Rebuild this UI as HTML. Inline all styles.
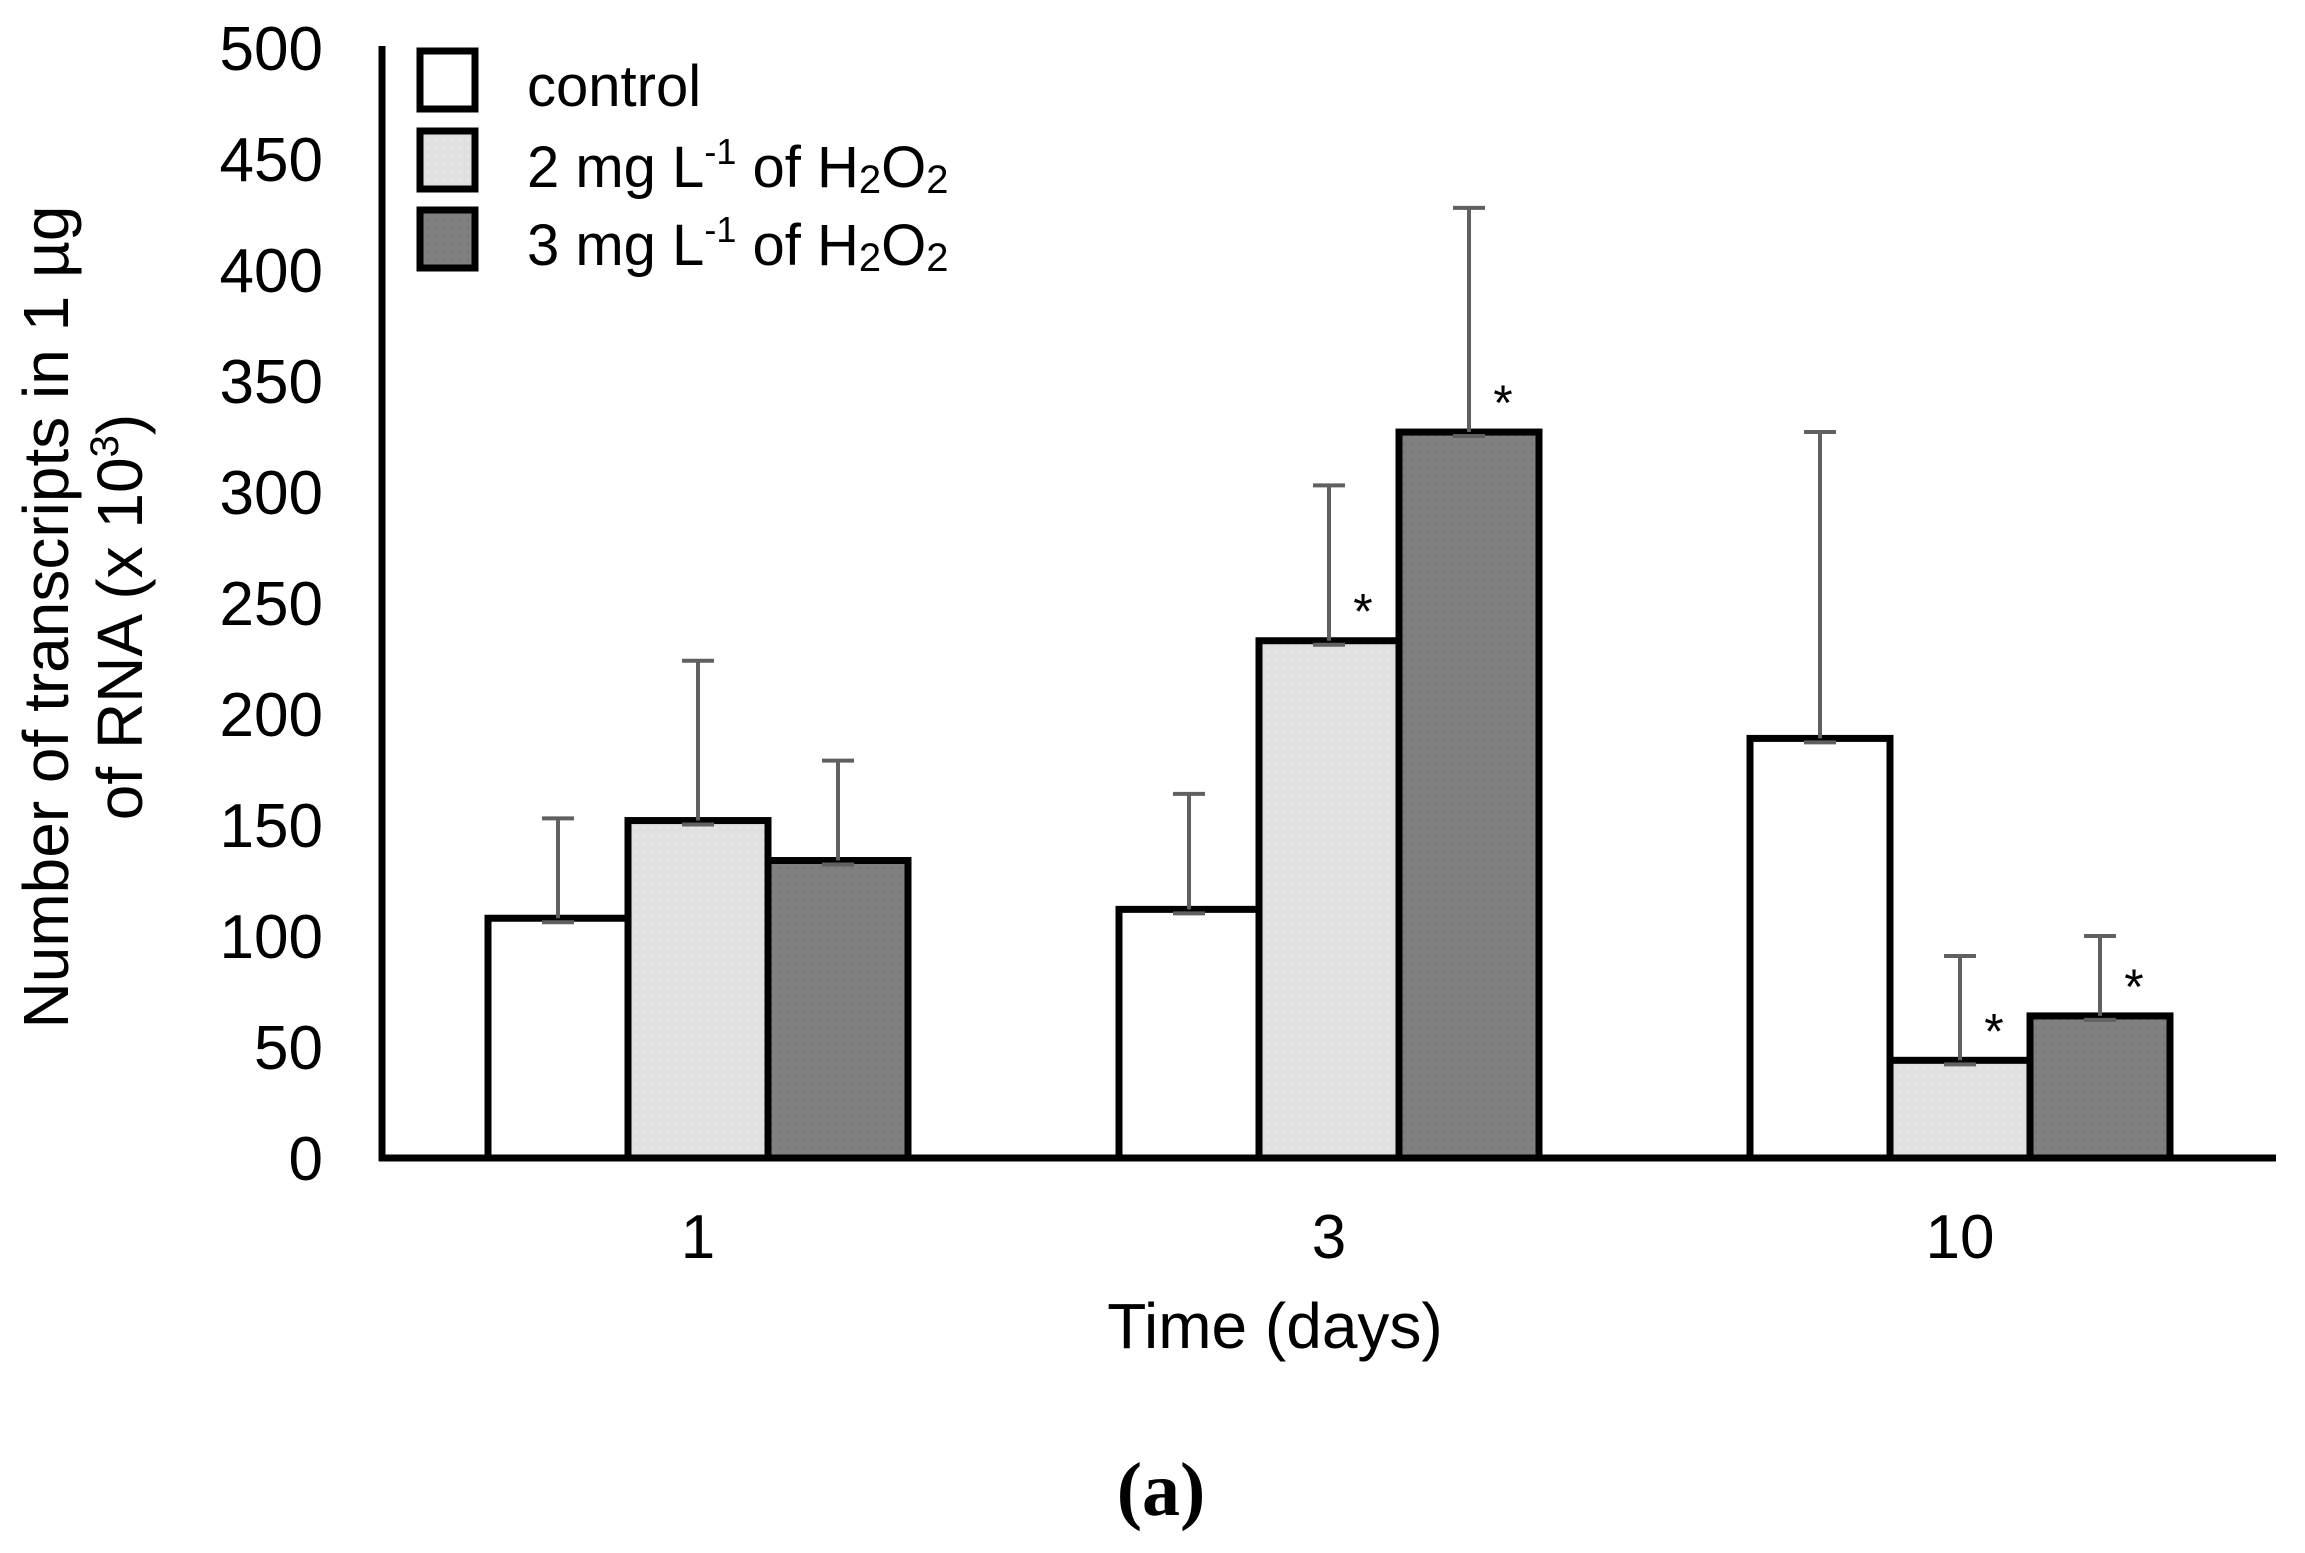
<!DOCTYPE html>
<html><head><meta charset="utf-8">
<style>
html,body{margin:0;padding:0;background:#fff;}
svg{display:block;}
text{font-family:"Liberation Sans",sans-serif;fill:#000;}
</style></head>
<body>
<svg id="chart" width="2305" height="1553" viewBox="0 0 2305 1553" xmlns="http://www.w3.org/2000/svg">
<defs>
<pattern id="dotL" width="8" height="8" patternUnits="userSpaceOnUse"><rect width="8" height="8" fill="#e0e0e0"/><circle cx="4" cy="4" r="1.2" fill="#ececec"/></pattern>
<pattern id="dotD" width="8" height="8" patternUnits="userSpaceOnUse"><rect width="8" height="8" fill="#808080"/><circle cx="4" cy="4" r="1.2" fill="#767676"/></pattern>
</defs>
<g id="bars"></g>
<g id="errs"></g>
<g id="stars"></g>
<line x1="382" y1="46" x2="382" y2="1161" stroke="#000" stroke-width="7"/>
<line x1="379" y1="1158" x2="2276" y2="1158" stroke="#000" stroke-width="7"/>
<g id="yticks"></g>
<g id="xticks"></g>
<g font-size="64">
<text transform="translate(68,617) rotate(-90)" text-anchor="middle">Number of transcripts in 1 µg</text>
<text transform="translate(142,617) rotate(-90)" text-anchor="middle">of RNA (x 10<tspan font-size="40" dy="-24">3</tspan><tspan dy="24">)</tspan></text>
</g>
<text x="1275" y="1348" font-size="64" text-anchor="middle">Time (days)</text>
<text x="1161" y="1515" font-size="76" text-anchor="middle" style="font-family:'Liberation Serif',serif;font-weight:bold">(a)</text>
<g>
<g>
<rect x="420" y="51" width="55" height="58" fill="#fff" stroke="#000" stroke-width="7"/>
<text x="527" y="106" font-size="58">control</text></g>
<g>
<rect x="420" y="131" width="55" height="58" fill="url(#dotL)" stroke="#000" stroke-width="7"/>
<text x="527" y="187" font-size="58">2 mg L<tspan font-size="36" dy="-23">-1</tspan><tspan dy="23"> of H</tspan><tspan font-size="40" dy="6">2</tspan><tspan dy="-6">O</tspan><tspan font-size="40" dy="6">2</tspan></text></g>
<g>
<rect x="420" y="210" width="55" height="58" fill="url(#dotD)" stroke="#000" stroke-width="7"/>
<text x="527" y="265" font-size="58">3 mg L<tspan font-size="36" dy="-23">-1</tspan><tspan dy="23"> of H</tspan><tspan font-size="40" dy="6">2</tspan><tspan dy="-6">O</tspan><tspan font-size="40" dy="6">2</tspan></text></g>
</g>
</svg>
<script>
const categories = ["1", "3", "10"];
const controlValues = [108, 112, 189];
const mg2Values = [152, 233, 44];
const mg3Values = [134, 327, 64];
const controlErr = [153, 164, 327];
const mg2Err = [224, 303, 91];
const mg3Err = [179, 428, 100];
const mg2Sig = [false, true, true];
const mg3Sig = [false, true, true];
const yTicks = [0, 50, 100, 150, 200, 250, 300, 350, 400, 450, 500];

const NS = "http://www.w3.org/2000/svg";
const Y0 = 1158, Y500 = 48;
function yScale(v){ return Y0 - (v/500)*(Y0-Y500); }
const groupStart = 698, groupStep = 631;
function xCenter(i){ return groupStart + i*groupStep; }
const BW = 140;
const series = [
  {name:"control", vals:controlValues, err:controlErr, fill:"#fff", sig:null},
  {name:"2mg", vals:mg2Values, err:mg2Err, fill:"url(#dotL)", sig:mg2Sig},
  {name:"3mg", vals:mg3Values, err:mg3Err, fill:"url(#dotD)", sig:mg3Sig}
];
function mk(tag, attrs, parent){
  const e = document.createElementNS(NS, tag);
  for (const k in attrs) e.setAttribute(k, attrs[k]);
  parent.appendChild(e); return e;
}
const gb = document.getElementById("bars"), ge = document.getElementById("errs"), gs = document.getElementById("stars");
categories.forEach((c, i) => {
  series.forEach((s, j) => {
    const cx = xCenter(i) + (j-1)*BW;
    const top = yScale(s.vals[i]);
    const r = mk("rect", {x: cx-BW/2, y: top, width: BW, height: Y0-top, fill: s.fill, stroke:"#000", "stroke-width":7}, gb);
    
    
    const et = yScale(s.err[i]);
    const e = mk("path", {d:`M${cx},${top} V${et} M${cx-16},${et} H${cx+16} M${cx-16},${top+4} H${cx+16}`, stroke:"#606060", "stroke-width":4, fill:"none"}, ge);
    
    
    if (s.sig && s.sig[i]) {
      const t = mk("text", {x: cx+34, y: top-12, "font-size":50, "text-anchor":"middle"}, gs);
      t.textContent = "*";
      
      
    }
  });
});
const gy = document.getElementById("yticks");
yTicks.forEach(v => {
  const t = mk("text", {x: 323, y: yScale(v)+22, "font-size":62, "text-anchor":"end"}, gy);
  t.textContent = v;
  
  
});
const gx = document.getElementById("xticks");
categories.forEach((c, i) => {
  const t = mk("text", {x: xCenter(i), y: 1258, "font-size":62, "text-anchor":"middle"}, gx);
  t.textContent = c;
  
  
});
</script>
</body></html>
